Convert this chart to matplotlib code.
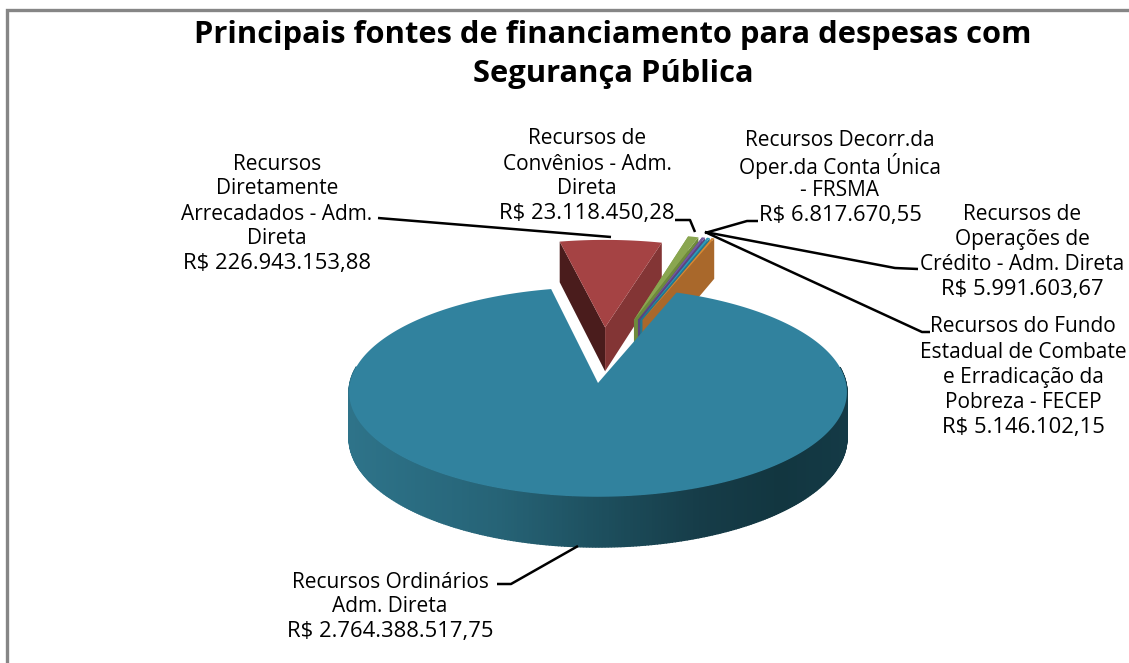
import numpy as np
import matplotlib
matplotlib.use('Agg')
import matplotlib.pyplot as plt
from matplotlib.colors import to_rgb

titulo = ['Principais fontes de financiamento para despesas com', 'Segurança Pública']

categorias = ['Recursos Ordinários\nAdm. Direta',
              'Recursos\nDiretamente\nArrecadados - Adm.\nDireta',
              'Recursos de\nConvênios - Adm.\nDireta',
              'Recursos Decorr.da\nOper.da Conta Única\n- FRSMA',
              'Recursos de\nOperações de\nCrédito - Adm. Direta',
              'Recursos do Fundo\nEstadual de Combate\ne Erradicação da\nPobreza - FECEP']
valores = [2764388517.75, 226943153.88, 23118450.28, 6817670.55, 5991603.67, 5146102.15]
rotulos_valor = ['R$ 2.764.388.517,75', 'R$ 226.943.153,88', 'R$ 23.118.450,28',
                 'R$ 6.817.670,55', 'R$ 5.991.603,67', 'R$ 5.146.102,15']

cores = ['#31829E', '#A54344', '#8AA650', '#7459A0', '#2E9AB8', '#D98A35']
cor_parede = ['#1f5a6c', '#833535', '#6E8A3C', '#5A4480', '#24788F', '#A9682B']
cor_parede_esq = ['#1f5a6c', '#4A1C1C', '#7F9A45', '#4a3a6c', '#1f6a80', '#A9682B']

# posicao dos rotulos: x centro, y da primeira linha
pos_rotulos = [(390, 582), (277, 164), (587, 139), (840, 141), (1022, 214), (1023, 327)]
# linhas de chamada
chamadas = [[(497, 584), (511, 584), (578, 546)],
            [(378, 218), (611, 237)],
            [(675, 220), (690, 220), (695, 232)],
            [(758, 221), (747, 221), (705, 233)],
            [(918, 269), (895, 268), (705, 232)],
            [(930, 332), (922, 332), (705, 232)]]

cx, cy = 598, 383
rx, ry, prof, k = 248, 104, 46, 0.0857
inicio = 20.0
explosao = [(0.0, 0.0), (0.03, 0.56), (0.153, 0.64), (0.17, 0.64), (0.18, 0.64), (0.19, 0.64)]


def proj(u, v, z=0.0):
    # plano da pizza para a tela, com um pouco de perspectiva
    w = 1 + k * v
    return cx + rx * u / w, cy - ry * v / w + z * prof / w


fig = plt.figure(figsize=(11.29, 6.63), dpi=100)
ax = fig.add_axes([0, 0, 1, 1])
ax.set_xlim(0, 1129)
ax.set_ylim(663, 0)
ax.axis('off')

# moldura
ax.plot([7, 7, 1129], [663, 10, 10], color='#868686', lw=2.4, solid_joinstyle='miter', zorder=1)

frac = np.array(valores) / sum(valores) * 360
ini = inicio + np.concatenate([[0], np.cumsum(frac)[:-1]])


def fatia(i, n=80):
    a = np.radians(np.linspace(ini[i], ini[i] + frac[i], n))
    du, dv = explosao[i]
    return a, du + np.sin(a), dv + np.cos(a), du, dv


# vermelha e pequenas primeiro, da esquerda para a direita; a principal fica por cima
ordem = [1, 2, 3, 4, 5]
for i in ordem:
    a, us, vs, du, dv = fatia(i)
    z = 3 + i * 0.01
    # parede esquerda
    p = [proj(du, dv), proj(us[0], vs[0]), proj(us[0], vs[0], 1), proj(du, dv, 1)]
    ax.fill(*zip(*p), color=cor_parede_esq[i], lw=0, zorder=z)
    # parede direita
    p = [proj(du, dv), proj(us[-1], vs[-1]), proj(us[-1], vs[-1], 1), proj(du, dv, 1)]
    ax.fill(*zip(*p), color=cor_parede[i], lw=0, zorder=z)
    # topo
    xt, yt = proj(np.r_[du, us], np.r_[dv, vs])
    ax.fill(xt, yt, color=cores[i], lw=0, zorder=3.5 + i * 0.01)

# fatia principal: parede externa em faixas com degrade
a, us, vs, du, dv = fatia(0, 500)
paradas_x = [350, 420, 500, 600, 700, 780, 846]
paradas_c = ['#2E7389', '#2A6C81', '#266376', '#1D4F5E', '#163C48', '#123640', '#143A46']
cs = np.array([to_rgb(c) for c in paradas_c])
for j in range(len(a) - 1):
    if np.cos(a[j]) > 0.15 and np.cos(a[j + 1]) > 0.15:
        continue
    x0, y0 = proj(us[j], vs[j])
    x1, y1 = proj(us[j + 1], vs[j + 1])
    x2, y2 = proj(us[j + 1], vs[j + 1], 1)
    x3, y3 = proj(us[j], vs[j], 1)
    c = [np.interp((x0 + x1) / 2, paradas_x, cs[:, n]) for n in range(3)]
    ax.fill([x0, x1, x2, x3], [y0, y1, y2, y3], color=c, lw=1.0, ec=c, zorder=4)
xt, yt = proj(np.r_[du, us], np.r_[dv, vs])
ax.fill(xt, yt, color=cores[0], lw=0, zorder=5)

# linhas de chamada
for c in chamadas:
    ax.plot(*zip(*c), color='black', lw=1.8, zorder=6, solid_capstyle='butt')

fonte = 'Open Sans'
for i, (x, y) in enumerate(pos_rotulos):
    linhas = categorias[i].split('\n')
    for n, t in enumerate(linhas):
        ax.text(x, y + n * 25, t, ha='center', va='center', fontsize=15.0, family=fonte,
                color='black', zorder=7)
    ax.text(x, y + len(linhas) * 25, rotulos_valor[i], ha='center', va='center', fontsize=15.8,
            family=fonte, color='black', zorder=7)

for n, t in enumerate(titulo):
    ax.text(613, 35 + n * 39, t, ha='center', va='center', fontsize=22.2, fontweight='bold',
            family=fonte, color='black', zorder=7)

fig.savefig('out.png', dpi=100, facecolor='white')
